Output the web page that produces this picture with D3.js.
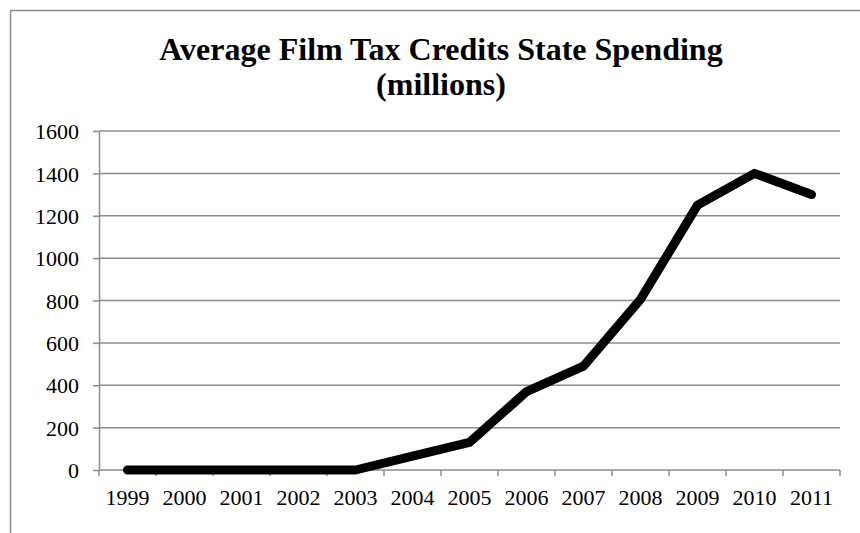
<!DOCTYPE html>
<html lang="en">
  <head>
    <meta charset="UTF-8" />
    <title>Average Film Tax Credits State Spending</title>
    <script src="https://d3js.org/d3.v7.min.js"></script>
    <style>
      body {
        margin: 0;
        background: #fff;
        overflow: hidden;
      }
      svg {
        display: block;
        font-family: "Liberation Serif", "Times New Roman", serif;
      }
      .grid line {
        stroke: #8c8c8c;
        stroke-width: 1.5px;
      }
      .axis path,
      .axis line {
        stroke: #8c8c8c;
        stroke-width: 1.5px;
      }
      .axis text {
        font-family: "Liberation Serif", "Times New Roman", serif;
        font-size: 22px;
        fill: #000;
      }
    </style>
  </head>
  <body>
    <svg></svg>

    <script>
      const width = 860;
      const height = 533;

      // chart data
      const years = ["1999", "2000", "2001", "2002", "2003", "2004", "2005",
                     "2006", "2007", "2008", "2009", "2010", "2011"];
      const spending = [0, 0, 0, 0, 0, 65, 130, 370, 490, 805, 1250, 1400, 1300];
      const yTicks = [0, 200, 400, 600, 800, 1000, 1200, 1400, 1600];
      const titleLines = ["Average Film Tax Credits State Spending", "(millions)"];

      const margin = { top: 131, right: 20, bottom: 63, left: 99 };
      const plotW = 840 - margin.left;
      const plotH = 470 - margin.top;

      const svg = d3.select("svg")
        .attr("width", width)
        .attr("height", height);

      // outer chart border (runs past the window on right and bottom)
      svg.append("rect")
        .attr("x", 10.5)
        .attr("y", 10.5)
        .attr("width", 900)
        .attr("height", 600)
        .attr("fill", "none")
        .attr("stroke", "#8c8c8c")
        .attr("stroke-width", 1.5);

      // title
      svg.append("g")
        .selectAll("text")
        .data(titleLines)
        .join("text")
        .attr("x", 441)
        .attr("y", (d, i) => 60 + i * 35)
        .attr("text-anchor", "middle")
        .attr("font-size", 32)
        .attr("font-weight", "bold")
        .text(d => d);

      const g = svg.append("g")
        .attr("transform", `translate(${margin.left},${margin.top})`);

      const x = d3.scaleBand().domain(years).range([0, plotW]);
      const y = d3.scaleLinear().domain([0, 1600]).range([plotH, 0]);

      // horizontal gridlines
      g.append("g")
        .attr("class", "grid")
        .selectAll("line")
        .data(yTicks.filter(d => d > 0))
        .join("line")
        .attr("x1", 0)
        .attr("x2", plotW)
        .attr("y1", d => y(d))
        .attr("y2", d => y(d));

      // y axis
      g.append("g")
        .attr("class", "axis")
        .call(d3.axisLeft(y).tickValues(yTicks).tickFormat(d3.format("d"))
          .tickSize(6).tickPadding(14).tickSizeOuter(0))
        .call(a => a.selectAll("text").attr("dy", "0.35em"));

      // x axis, ticks on band boundaries
      const xAxis = g.append("g")
        .attr("class", "axis")
        .attr("transform", `translate(0,${plotH})`);
      xAxis.append("line")
        .attr("x1", 0)
        .attr("x2", plotW);
      xAxis.selectAll("line.tick")
        .data(years.concat(["end"]))
        .join("line")
        .attr("class", "tick")
        .attr("x1", (d, i) => i * x.step())
        .attr("x2", (d, i) => i * x.step())
        .attr("y1", 0)
        .attr("y2", 6);
      xAxis.selectAll("text")
        .data(years)
        .join("text")
        .attr("x", d => x(d) + x.bandwidth() / 2)
        .attr("y", 35)
        .attr("text-anchor", "middle")
        .text(d => d);

      // data line
      const line = d3.line()
        .x((d, i) => x(years[i]) + x.bandwidth() / 2)
        .y(d => y(d));

      g.append("path")
        .datum(spending)
        .attr("d", line)
        .attr("fill", "none")
        .attr("stroke", "#000")
        .attr("stroke-width", 9)
        .attr("stroke-linecap", "round")
        .attr("stroke-linejoin", "round");
    </script>
  </body>
</html>
